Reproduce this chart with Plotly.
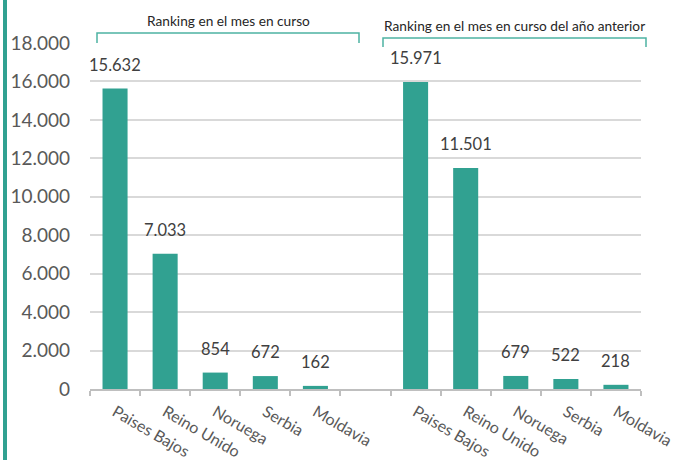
import plotly.graph_objects as go

categories = ["Paises Bajos", "Reino Unido", "Noruega", "Serbia", "Moldavia"]
current_values = [15632, 7033, 854, 672, 162]
previous_values = [15971, 11501, 679, 522, 218]
group_titles = ["Ranking en el mes en curso", "Ranking en el mes en curso del año anterior"]
y_ticks = [0, 2000, 4000, 6000, 8000, 10000, 12000, 14000, 16000, 18000]

def fmt(v):
    return f"{v:,}".replace(",", ".")

# positions: 5 current, one empty slot, 5 previous
x_cur = list(range(len(categories)))
x_prev = [len(categories) + 1 + i for i in range(len(categories))]
n_slots = 2 * len(categories) + 1

BAR = "#31A191"
FONT = "Lato"

fig = go.Figure()
fig.add_trace(go.Bar(x=x_cur + x_prev, y=current_values + previous_values,
                     marker=dict(color=BAR, line=dict(width=0)), width=0.5,
                     hoverinfo="skip"))

for x, v in zip(x_cur + x_prev, current_values + previous_values):
    fig.add_annotation(x=x, y=v, text=fmt(v), showarrow=False, yanchor="bottom",
                       xanchor="center", yshift=12,
                       font=dict(family=FONT, size=16.5, color="#404040"))

fig.update_layout(
    width=683, height=460,
    margin=dict(l=90, r=42, t=43, b=71, autoexpand=False),
    paper_bgcolor="white", plot_bgcolor="white",
    showlegend=False, bargap=0.5,
    font=dict(family=FONT),
)
fig.update_xaxes(
    automargin=False,
    range=[-0.5, n_slots - 0.5],
    tickvals=x_cur + x_prev, ticktext=categories + categories,
    tickangle=30, ticks="", ticklabelstandoff=6,
    tickfont=dict(family=FONT, size=16, color="#595959"),
    showgrid=False, zeroline=False,
    showline=True, linecolor="#BFBFBF", linewidth=1.5,
    minor=dict(tickvals=[i - 0.5 for i in range(n_slots + 1)], ticks="outside",
               ticklen=5, tickcolor="#BFBFBF", tickwidth=1.5, showgrid=False),
)
fig.update_yaxes(
    automargin=False,
    range=[0, 18000], tickvals=y_ticks, ticktext=[fmt(t) for t in y_ticks],
    tickfont=dict(family=FONT, size=19, color="#595959"),
    showgrid=True, gridcolor="#D9D9D9", gridwidth=1.5, zeroline=False,
    ticks="", ticklabelstandoff=19,
)

# left accent stripe
fig.add_shape(type="rect", xref="paper", yref="paper",
              x0=-87/551, x1=-83/551, y0=-71/346, y1=1 + 43/346,
              fillcolor=BAR, line=dict(width=0), layer="above")

# group brackets (paper coordinates)
brackets = [(7, 269, 33, 43), (293, 556, 38, 47)]
for (px0, px1, ytop, ybot), title in zip(brackets, group_titles):
    x0, x1 = px0 / 551, px1 / 551
    yt = 1 + (43 - ytop) / 346
    yb = 1 + (43 - ybot) / 346
    fig.add_shape(type="path", xref="paper", yref="paper",
                  path=f"M {x0},{yb} L {x0},{yt} L {x1},{yt} L {x1},{yb}",
                  line=dict(color="#4DB3A3", width=1.5))
    fig.add_annotation(x=(x0 + x1) / 2, xref="paper", y=yt, yref="paper",
                       text=title, showarrow=False, yanchor="bottom",
                       xanchor="center", yshift=2,
                       font=dict(family=FONT, size=13.7, color="#262626"))

fig.write_html("out.html", config={"displayModeBar": False},
               post_script="document.body.style.margin='0';document.body.style.overflow='hidden';")
